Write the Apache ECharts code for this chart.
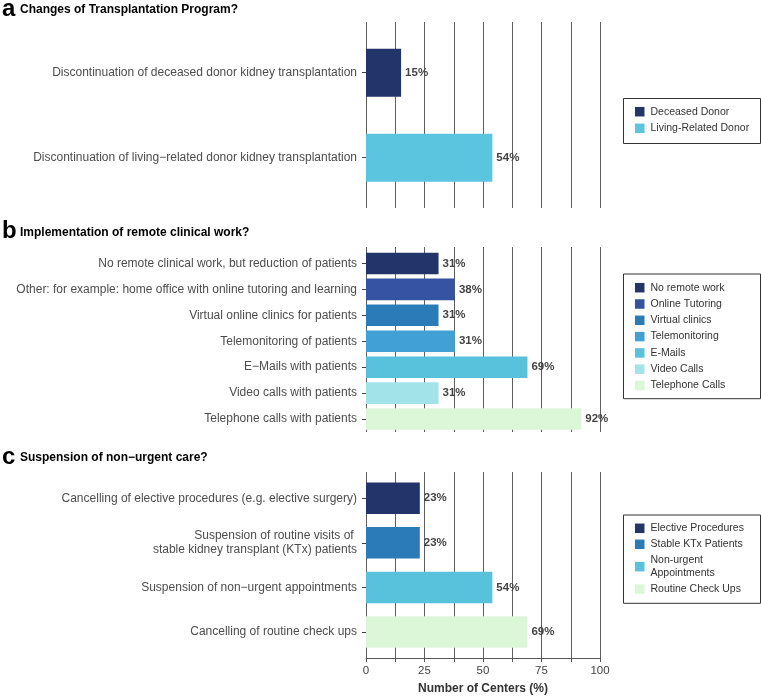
<!DOCTYPE html>
<html>
<head>
<meta charset="utf-8">
<script src="https://cdn.jsdelivr.net/npm/echarts@6/dist/echarts.min.js"></script>
<style>html,body{margin:0;padding:0;background:#fff}#c{width:761px;height:698px}</style>
</head>
<body>
<div id="c"></div>
<script>
// ---------- data ----------
const catsA = ['Discontinuation of deceased donor kidney transplantation',
               'Discontinuation of living\u2212related donor kidney transplantation'];
const valsA = [15, 54];
const labelsA = ['15%', '54%'];
const legendA = ['Deceased Donor', 'Living-Related Donor'];

const catsB = ['No remote clinical work, but reduction of patients',
               'Other: for example: home office with online tutoring and learning',
               'Virtual online clinics for patients',
               'Telemonitoring of patients',
               'E\u2212Mails with patients',
               'Video calls with patients',
               'Telephone calls with patients'];
const valsB = [31, 38, 31, 38, 69, 31, 92];
const labelsB = ['31%', '38%', '31%', '31%', '69%', '31%', '92%'];
const legendB = ['No remote work', 'Online Tutoring', 'Virtual clinics', 'Telemonitoring',
                 'E-Mails', 'Video Calls', 'Telephone Calls'];

const catsC = ['Cancelling of elective procedures (e.g. elective surgery)',
               'Suspension of routine visits of \nstable kidney transplant (KTx) patients',
               'Suspension of non\u2212urgent appointments',
               'Cancelling of routine check ups'];
const valsC = [23, 23, 54, 69];
const labelsC = ['23%', '23%', '54%', '69%'];
const legendC = ['Elective Procedures', 'Stable KTx Patients', 'Non-urgent\nAppointments', 'Routine Check Ups'];

const xTicks = [0, 25, 50, 75, 100];
const titles = [['a', 'Changes of Transplantation Program?'],
                ['b', 'Implementation of remote clinical work?'],
                ['c', 'Suspension of non\u2212urgent care?']];
const xTitle = 'Number of Centers (%)';

// ---------- styles ----------
const colorsA = ['#23346a', '#5bc4de'];
const colorsB = ['#23346a', '#3652a2', '#2b7bb9', '#41a0d5', '#58c2dc', '#a2e3ea', '#dcf7d8'];
const colorsC = ['#23346a', '#2b7bb9', '#58c2dc', '#dcf7d8'];
const FONT = '"Liberation Sans", Arial, Helvetica, sans-serif';

const panels = [
  {cats: catsA, vals: valsA, labels: labelsA, legend: legendA, colors: colorsA,
   lt: 22, lh: 186, bt: 30.2, bh: 170, bw: 48, legTop: 105.35, legGap: 3.9, last: false},
  {cats: catsB, vals: valsB, labels: labelsB, legend: legendB, colors: colorsB,
   lt: 247, lh: 185, bt: 250.5, bh: 181.5, bw: 21.6, legTop: 281.35, legGap: 3.6, last: false},
  {cats: catsC, vals: valsC, labels: labelsC, legend: legendC, colors: colorsC,
   lt: 472, lh: 186, bt: 476, bh: 178.3, bw: 31.5, legTop: 521.95, legGap: 3.3, last: true}
];

const grid = [], xAxis = [], yAxis = [], series = [], legend = [];
const GL = 366, GR = 161;

panels.forEach((p, pi) => {
  const gLines = grid.length;
  grid.push({left: GL, right: GR, top: p.lt, height: p.lh, containLabel: false});
  xAxis.push({
    type: 'value', gridIndex: gLines, min: 0, max: 100, interval: 12.5,
    splitLine: {show: true, lineStyle: {color: '#5e5e5e', width: 1}},
    axisLine: {show: p.last, lineStyle: {color: '#555', width: 1}},
    axisTick: {show: p.last, length: 4, lineStyle: {color: '#555'}},
    axisLabel: {show: p.last, margin: 7, color: '#444', fontFamily: FONT, fontSize: 11.5,
      formatter: v => (xTicks.indexOf(v) >= 0 ? String(v) : '')},
    name: p.last ? xTitle : '', nameLocation: 'middle', nameGap: 25,
    nameTextStyle: {color: '#333', fontFamily: FONT, fontSize: 12, fontWeight: 'bold'}
  });
  yAxis.push({type: 'value', gridIndex: gLines, min: 0, max: 1, show: false});

  const gBars = grid.length;
  grid.push({left: GL, right: GR, top: p.bt, height: p.bh, containLabel: false});
  xAxis.push({type: 'value', gridIndex: gBars, min: 0, max: 100, show: false});
  yAxis.push({
    type: 'category', gridIndex: gBars, data: p.cats, inverse: true,
    axisLine: {show: false},
    axisTick: {show: true, alignWithLabel: true, length: 4, lineStyle: {color: '#444'}},
    axisLabel: {margin: 9, color: '#4d4d4d', fontFamily: FONT, fontSize: 12, lineHeight: 14, align: 'right'}
  });

  p.cats.forEach((c, i) => {
    series.push({
      type: 'bar', name: p.legend[i], xAxisIndex: gBars, yAxisIndex: gBars,
      stack: 'panel' + pi, barWidth: p.bw,
      data: p.cats.map((_, j) => (j === i ? p.vals[i] : '-')),
      itemStyle: {color: p.colors[i]},
      label: {show: true, position: 'right', distance: 4, formatter: p.labels[i],
        color: '#444', fontFamily: FONT, fontSize: 11.5, fontWeight: 'bold'},
      emphasis: {disabled: true}, animation: false
    });
  });

  legend.push({
    data: p.legend, orient: 'vertical', left: 635, top: p.legTop, padding: 0,
    itemWidth: 9.5, itemHeight: 9.5, itemGap: p.legGap, icon: 'rect',
    textStyle: {color: '#333', fontFamily: FONT, fontSize: 10.5, lineHeight: 12.7, padding: [0, 0, 0, 1]},
    selectedMode: false
  });
});

const frames = [[98.5, 45], [274, 124.7], [515, 88.3]];
const titleY = [[8.3, 10.6], [230.8, 233.2], [456.3, 458.6]];
const graphic = [];
titles.forEach((t, i) => {
  graphic.push({type: 'text', left: 2, top: titleY[i][0] - 11, silent: true,
    style: {text: t[0], font: 'bold 24px ' + FONT, fill: '#000'}});
  graphic.push({type: 'text', left: 20, top: titleY[i][1] - 6.5, silent: true,
    style: {text: t[1], font: 'bold 12px ' + FONT, fill: '#000'}});
});
frames.forEach(f => {
  graphic.push({type: 'rect', silent: true, shape: {x: 623.5, y: f[0], width: 137, height: f[1]},
    style: {fill: 'none', stroke: '#333', lineWidth: 1}});
});

const chart = echarts.init(document.getElementById('c'), null, {renderer: 'canvas'});
chart.setOption({
  animation: false,
  backgroundColor: '#fff',
  grid, xAxis, yAxis, series, legend, graphic
});
</script>
</body>
</html>
